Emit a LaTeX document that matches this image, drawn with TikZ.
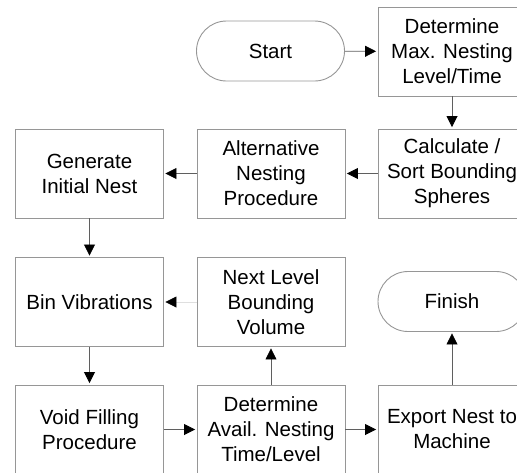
\documentclass[tikz,border=0pt]{standalone}
\usepackage{fontspec}
\setmainfont{Liberation Sans}
\usepackage{tikz}
\usetikzlibrary{arrows.meta}
\usetikzlibrary{shapes.misc}
\definecolor{boxline}{RGB}{150, 150, 150}
\definecolor{flowline}{RGB}{95, 95, 95}

\tikzset{
    stepbox/.style={draw=boxline, line width=0.9pt, minimum width=148pt, minimum height=89pt,
        inner sep=0pt, align=center, font=\fontsize{20.5}{25}\selectfont},
    terminal/.style={stepbox, rounded rectangle, minimum height=60pt},
    flow/.style={draw=flowline, line width=0.8pt, shorten >=1.5pt,
        -{Triangle[length=11pt, width=11pt, color=black]}},
}

\begin{document}
\begin{tikzpicture}[x=1pt, y=-1pt]
    \useasboundingbox (0,0) rectangle (517,472);
    % top row
    \node[terminal] (start) at (270.5, 51.0) {Start};
    \node[stepbox]  (maxlevel) at (452.0, 51.5) {Determine\\Max. Nesting\\Level/Time};
    % second row
    \node[stepbox]  (initnest) at ( 89.5, 173.5) {Generate\\Initial Nest};
    \node[stepbox]  (altnest)  at (271.0, 173.5) {Alternative\\Nesting\\Procedure};
    \node[stepbox]  (spheres)  at (452.0, 173.5) {Calculate /\\Sort Bounding\\Spheres};
    % third row
    \node[stepbox]  (vibrate)  at ( 89.5, 302.0) {Bin Vibrations};
    \node[stepbox]  (nextvol)  at (271.0, 302.0) {Next Level\\Bounding\\Volume};
    \node[terminal] (finish)   at (452.0, 301.5) {Finish};
    % bottom row
    \node[stepbox]  (voidfill) at ( 89.5, 429.5) {Void Filling\\Procedure};
    \node[stepbox]  (availtime) at (271.0, 429.5) {Determine\\Avail. Nesting\\Time/Level};
    \node[stepbox]  (export)   at (452.0, 429.5) {Export Nest to\\Machine};

    \draw[flow] (start) -- (maxlevel);
    \draw[flow] (maxlevel) -- (spheres);
    \draw[flow] (spheres) -- (altnest);
    \draw[flow] (altnest) -- (initnest);
    \draw[flow] (initnest) -- (vibrate);
    \draw[flow, draw=gray!25] (nextvol) -- (vibrate);
    \draw[flow] (vibrate) -- (voidfill);
    \draw[flow] (voidfill) -- (availtime);
    \draw[flow] (availtime) -- (nextvol);
    \draw[flow] (availtime) -- (export);
    \draw[flow] (export) -- (finish);
\end{tikzpicture}
\end{document}
